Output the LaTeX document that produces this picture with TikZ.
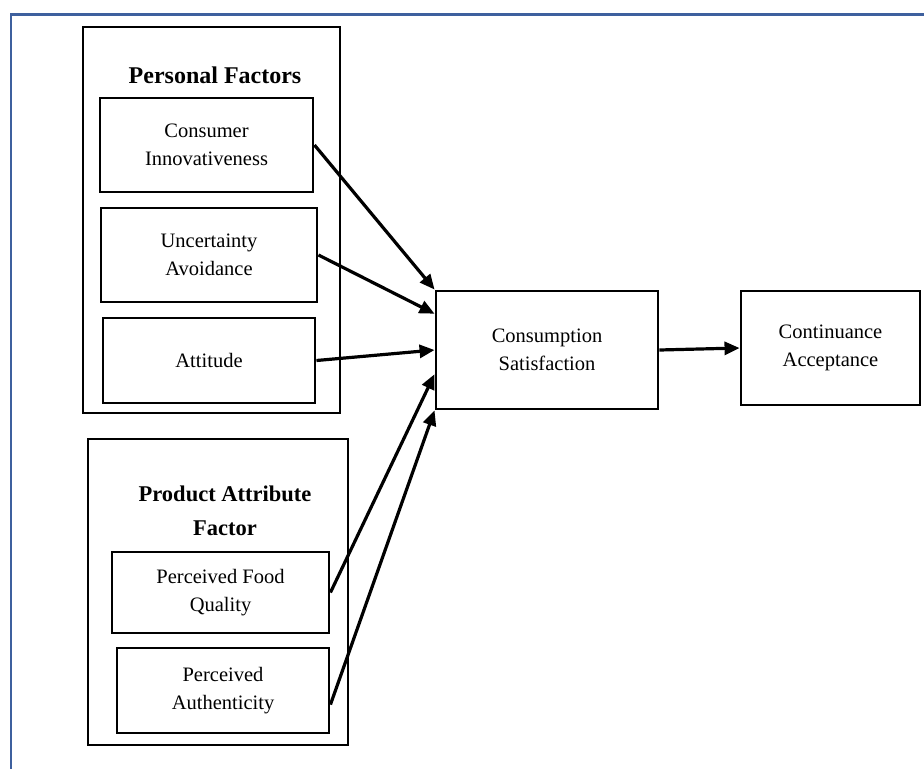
\documentclass[tikz,border=0pt]{standalone}
\usepackage{fontspec}
\setmainfont{Liberation Serif}
\usetikzlibrary{arrows.meta,calc}
\definecolor{frameblue}{RGB}{62,96,158}
\begin{document}
\begin{tikzpicture}[x=1pt,y=-1pt,
  box/.style={draw, line width=2.9pt, inner sep=0pt, align=center,
    font=\fontsize{20.5}{28}\selectfont},
  group/.style={draw, line width=2.9pt, inner sep=0pt},
  title/.style={inner sep=0pt, align=center},
  conn/.style={line width=3.2pt, -{Triangle[length=15pt,width=13pt]}}]
\useasboundingbox (0,0) rectangle (924,769);
% page frame
\draw[frameblue, line width=2.8pt] (924,14.5) -- (11,14.5) -- (11,769);
% groups
\node[group, minimum width=257pt, minimum height=386pt] (pf) at (211.5,220) {};
\node[group, minimum width=260pt, minimum height=306pt] (paf) at (218,592) {};
\node[title, font=\fontsize{24}{30}\selectfont\bfseries] (pft) at (215,75) {Personal Factors};
\node[title, font=\fontsize{22.5}{34}\selectfont\bfseries] (paft) at (225,511) {Product Attribute\\Factor};
% boxes
\node[box, minimum width=213pt, minimum height=94pt] (ci) at (206.5,145) {Consumer\\Innovativeness};
\node[box, minimum width=216pt, minimum height=94pt] (ua) at (209,255) {Uncertainty\\Avoidance};
\node[box, minimum width=212pt, minimum height=85pt] (att) at (209,360.5) {Attitude};
\node[box, minimum width=217pt, minimum height=81pt] (pfq) at (220.5,592.5) {Perceived Food\\Quality};
\node[box, minimum width=212pt, minimum height=85pt] (pa) at (223,690.5) {Perceived\\Authenticity};
\node[box, minimum width=222pt, minimum height=118pt] (cs) at (547,350) {Consumption\\Satisfaction};
\node[box, minimum width=179pt, minimum height=114pt] (ca) at (830.5,348) {Continuance\\Acceptance};
% connectors
\draw[conn] (ci.east) -- (cs.north west);
\draw[conn] (ua.east) -- ($(cs.north west)!0.2!(cs.south west)$);
\draw[conn] (att.east) -- (cs.west);
\draw[conn] (pfq.east) -- ($(cs.north west)!0.7!(cs.south west)$);
\draw[conn] ($(pa.north east)!0.66!(pa.south east)$) -- (cs.south west);
\draw[conn] (cs.east) -- (ca.west);
\end{tikzpicture}
\end{document}
